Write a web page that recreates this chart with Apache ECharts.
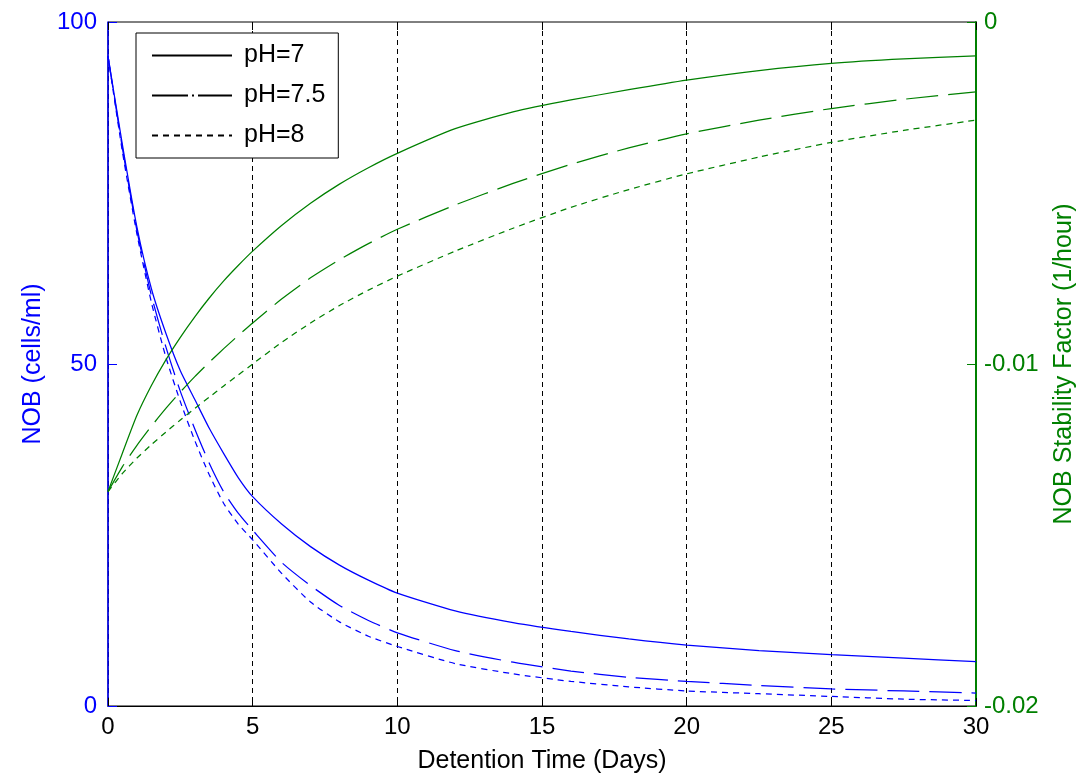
<!DOCTYPE html>
<html>
<head>
<meta charset="utf-8">
<title>NOB decay and stability factor vs detention time</title>
<script src="https://cdn.jsdelivr.net/npm/echarts@6/dist/echarts.min.js"></script>
<style>
  html, body { margin: 0; padding: 0; background: #fff; }
  #chart { width: 1079px; height: 782px; }
</style>
</head>
<body>
<div id="chart"></div>
<script>
// Detention time samples (days), shared by all curves
const days = [0, 0.5, 1, 1.5, 2, 2.5, 3, 3.5, 4, 4.5, 5, 6, 7, 8, 9, 10, 12, 14, 16, 18, 20, 22.5, 25, 27.5, 30];

// NOB concentration (cells/ml), left axis
const nobPH7  = [95, 82, 70, 61, 54.5, 49, 44.8, 40.6, 36.9, 33.4, 30.6, 26.6, 23.3, 20.6, 18.4, 16.5, 13.9, 12.2, 10.9, 9.8, 8.9, 8.1, 7.5, 7.0, 6.5];
const nobPH75 = [95, 81.5, 69.5, 60, 52.5, 46, 40.5, 35.5, 31.3, 28.2, 25.7, 21, 17.6, 14.7, 12.5, 10.7, 8.1, 6.4, 5.1, 4.2, 3.6, 3.0, 2.5, 2.2, 1.9];
const nobPH8  = [95, 81, 69, 59, 51, 44.5, 38.8, 33.8, 29.6, 26.6, 24.3, 19.4, 15.2, 12.3, 10.2, 8.7, 6.2, 4.7, 3.6, 2.8, 2.2, 1.8, 1.4, 1.0, 0.8];

// NOB stability factor (1/hour), right axis
const sfPH7  = [-0.01373, -0.0126, -0.0115, -0.01063, -0.00988, -0.00922, -0.00862, -0.00807, -0.00757, -0.00712, -0.0067, -0.00595, -0.0053, -0.00474, -0.00426, -0.00384, -0.00312, -0.00263, -0.00228, -0.00198, -0.0017, -0.00142, -0.00121, -0.00108, -0.00099];
const sfPH75 = [-0.01373, -0.0130, -0.01238, -0.01182, -0.0113, -0.01082, -0.01037, -0.00995, -0.00955, -0.00917, -0.0088, -0.0081, -0.00748, -0.00695, -0.00648, -0.00606, -0.00535, -0.00472, -0.00416, -0.00368, -0.00327, -0.00287, -0.00253, -0.00226, -0.00204];
const sfPH8  = [-0.01373, -0.0132, -0.01275, -0.01236, -0.01199, -0.01164, -0.0113, -0.01097, -0.01064, -0.01032, -0.01, -0.00937, -0.0088, -0.00829, -0.00784, -0.00743, -0.0067, -0.00603, -0.00542, -0.0049, -0.00444, -0.00395, -0.00352, -0.00317, -0.00287];

const legendNames = ['pH=7', 'pH=7.5', 'pH=8'];
const xTitle = 'Detention Time (Days)';
const leftTitle = 'NOB (cells/ml)';
const rightTitle = 'NOB Stability Factor (1/hour)';

const BLUE = '#0000ff';
const GREEN = '#008000';
const FONT = '"Liberation Sans", Arial, sans-serif';
const FS = 24;      // tick labels
const FS_T = 25;    // axis titles and legend

const pairs = (ys) => days.map((d, i) => [d, ys[i]]);

const dashLong = [32, 10];
const dashDot = [36, 4, 2, 4];
const dashShort = [6, 5];

function curve(name, ys, color, yIndex, dash) {
  return {
    name: name,
    type: 'line',
    xAxisIndex: 0,
    yAxisIndex: yIndex,
    data: pairs(ys),
    symbol: 'none',
    smooth: 0.2,
    silent: true,
    lineStyle: { color: color, width: 1.25, type: dash },
    itemStyle: { color: color },
    z: 3
  };
}

// Black key entries shown in the legend box
function legendEntry(name, dash) {
  return {
    name: name,
    type: 'line',
    xAxisIndex: 0,
    yAxisIndex: 0,
    data: [],
    symbol: 'none',
    lineStyle: { color: '#000', width: 1.3, type: dash },
    itemStyle: { color: '#000' }
  };
}

const chart = echarts.init(document.getElementById('chart'), null, { renderer: 'canvas' });

chart.setOption({
  animation: false,
  backgroundColor: '#fff',
  textStyle: { fontFamily: FONT },
  grid: {
    left: 108, right: 103, top: 22, bottom: 76,
    containLabel: false, outerBoundsMode: 'none',
    show: true, borderColor: '#000', borderWidth: 1, backgroundColor: '#fff'
  },
  legend: {
    data: legendNames,
    orient: 'vertical',
    left: 136,
    top: 33,
    itemWidth: 80,
    itemHeight: 20,
    itemGap: 15,
    padding: [10, 13, 10, 15],
    backgroundColor: '#fff',
    borderColor: '#000',
    borderWidth: 1,
    borderRadius: 0,
    selectedMode: false,
    itemStyle: { color: 'rgba(0,0,0,0)', borderWidth: 0, opacity: 0 },
    textStyle: { fontSize: FS_T, lineHeight: 20, color: '#000', fontFamily: FONT, padding: [0, 0, 0, 7] }
  },
  xAxis: [
    {
      type: 'value', position: 'bottom', min: 0, max: 30, interval: 5,
      name: xTitle, nameLocation: 'middle', nameGap: 43,
      nameTextStyle: { fontSize: FS_T, color: '#000', fontFamily: FONT },
      axisLine: { show: true, onZero: false, lineStyle: { color: '#000', width: 1 } },
      axisTick: { show: true, inside: true, length: 8, lineStyle: { color: '#000' } },
      axisLabel: { fontSize: FS, color: '#000', margin: 9, fontFamily: FONT },
      splitLine: { show: true, lineStyle: { color: '#000', width: 1, type: [5, 4] } }
    },
    {
      type: 'value', position: 'top', min: 0, max: 30, interval: 5,
      axisLine: { show: false, onZero: false },
      axisTick: { show: true, inside: true, length: 8, lineStyle: { color: '#000' } },
      axisLabel: { show: false },
      splitLine: { show: false }
    }
  ],
  yAxis: [
    {
      type: 'value', position: 'left', min: 0, max: 100, interval: 50,
      name: leftTitle, nameLocation: 'middle', nameGap: 50, nameRotate: 90,
      nameTextStyle: { fontSize: FS_T, color: BLUE, fontFamily: FONT },
      axisLine: { show: true, onZero: false, lineStyle: { color: BLUE, width: 1.5 } },
      axisTick: { show: true, inside: true, length: 9, lineStyle: { color: BLUE } },
      axisLabel: { fontSize: FS, color: BLUE, margin: 11, fontFamily: FONT },
      splitLine: { show: false }
    },
    {
      type: 'value', position: 'right', min: -0.02, max: 0, interval: 0.01,
      name: rightTitle, nameLocation: 'middle', nameGap: 76, nameRotate: 90,
      nameTextStyle: { fontSize: FS_T, color: GREEN, fontFamily: FONT },
      axisLine: { show: true, onZero: false, lineStyle: { color: GREEN, width: 2 } },
      axisTick: { show: true, inside: true, length: 9, lineStyle: { color: GREEN } },
      axisLabel: {
        fontSize: FS, color: GREEN, margin: 8, fontFamily: FONT,
        formatter: (v) => String(Math.round(v * 100) / 100)
      },
      splitLine: { show: false }
    }
  ],
  series: [
    legendEntry(legendNames[0], 'solid'),
    legendEntry(legendNames[1], dashDot),
    legendEntry(legendNames[2], dashShort),
    curve('NOB pH=7', nobPH7, BLUE, 0, 'solid'),
    curve('NOB pH=7.5', nobPH75, BLUE, 0, dashLong),
    curve('NOB pH=8', nobPH8, BLUE, 0, dashShort),
    curve('SF pH=7', sfPH7, GREEN, 1, 'solid'),
    curve('SF pH=7.5', sfPH75, GREEN, 1, dashLong),
    curve('SF pH=8', sfPH8, GREEN, 1, dashShort)
  ]
});
</script>
</body>
</html>
